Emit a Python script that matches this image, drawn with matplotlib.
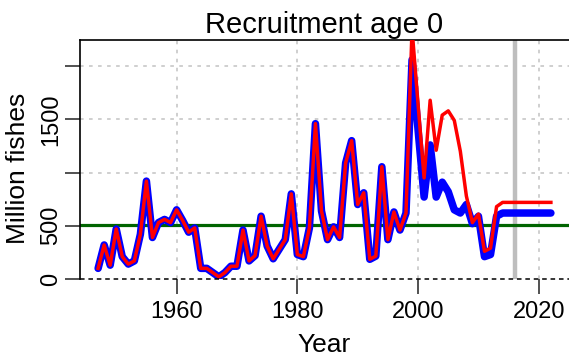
import matplotlib
matplotlib.use("Agg")
import matplotlib.pyplot as plt

# 年份与补充量数据（百万尾）
YEARS = list(range(1947, 2023))

RECRUIT_BLUE = [
    100, 320, 130, 470, 210, 140, 170, 420, 920, 390,      # 1947-1956
    530, 560, 530, 650, 550, 440, 480, 100, 100, 60,       # 1957-1966
    20, 60, 120, 120, 460, 170, 220, 590, 310, 190,        # 1967-1976
    280, 370, 800, 230, 210, 480, 1460, 640, 370, 490,     # 1977-1986
    390, 1090, 1300, 700, 810, 185, 215, 1055, 370, 630,   # 1987-1996
    460, 620, 2060, 1400, 770, 1260, 770, 910, 820, 650,   # 1997-2006
    620, 700, 520, 590, 210, 230, 590, 620, 620, 620,      # 2007-2016
    620, 620, 620, 620, 620, 620,                          # 2017-2022
]

RECRUIT_RED = [
    100, 320, 130, 470, 210, 140, 170, 420, 920, 390,
    530, 560, 530, 650, 550, 440, 480, 100, 100, 60,
    20, 60, 120, 120, 460, 170, 220, 590, 310, 190,
    280, 370, 800, 230, 210, 480, 1460, 640, 370, 490,
    390, 1090, 1300, 700, 810, 185, 215, 1055, 370, 630,
    460, 620, 2350, 1640, 950, 1680, 1210, 1540, 1580, 1490,
    1200, 780, 530, 610, 260, 290, 680, 720, 720, 720,
    720, 720, 720, 720, 720, 720,
]

REF_LEVEL = 510        # 参考水平线
LAST_ASSESS_YEAR = 2016  # 灰色竖线位置

X_TICKS = [1960, 1980, 2000, 2020]
Y_TICKS = [0, 500, 1000, 1500, 2000]
Y_TICK_LABELS = ["0", "500", "", "1500", ""]

W, H = 569, 358
plt.rcParams['font.family'] = ['Liberation Sans', 'DejaVu Sans']

fig = plt.figure(figsize=(W / 100, H / 100), dpi=100)
# 绘图区域（像素换算成比例）
L, R, T, B = 80, 569, 40, 279
ax = fig.add_axes([L / W, (H - B) / H, (R - L) / W, (B - T) / H])

ax.set_xlim(1944, 2025)
ax.set_ylim(0, 2246)

# 网格
for x in X_TICKS:
    ax.axvline(x, color='#cccccc', lw=1.3, ls=(0, (2, 3)), zorder=0)
for y in Y_TICKS[1:]:
    ax.axhline(y, color='#cccccc', lw=1.3, ls=(0, (2, 3)), zorder=0)

ax.axvline(LAST_ASSESS_YEAR, color='#bebebe', lw=3.2, zorder=1)
ax.axhline(REF_LEVEL, color='#006400', lw=2.3, zorder=2)
ax.axhline(0, color='black', lw=1.1, ls=(0, (3, 2.5)), zorder=5, clip_on=False)

ax.plot(YEARS, RECRUIT_BLUE, color='#0000ff', lw=5.4, solid_joinstyle='round',
        solid_capstyle='round', zorder=3)
ax.plot(YEARS, RECRUIT_RED, color='#ff0000', lw=2.5, solid_joinstyle='round',
        zorder=4)

# 坐标轴样式
for side in ['right', 'bottom']:
    ax.spines[side].set_visible(False)
for side in ['left', 'top']:
    ax.spines[side].set_linewidth(1.2)

ax.set_xticks(X_TICKS)
ax.set_xticklabels([str(x) for x in X_TICKS])
ax.set_yticks(Y_TICKS)
ax.set_yticklabels(Y_TICK_LABELS, rotation=90, va='center')
ax.tick_params(axis='both', length=11, width=1.1, labelsize=17, color='#222222')
ax.tick_params(axis='x', pad=5)
ax.tick_params(axis='y', pad=2)

ax.set_title("Recruitment age 0", fontsize=21, pad=5)
ax.set_xlabel("Year", fontsize=19, va='center')
ax.xaxis.set_label_coords(0.5, (B - 345) / (B - T))
ax.set_ylabel("Million fishes", fontsize=19, va='center')
ax.yaxis.set_label_coords((18 - L) / (R - L), (B - 168) / (B - T))

fig.savefig("out.png", dpi=100)
